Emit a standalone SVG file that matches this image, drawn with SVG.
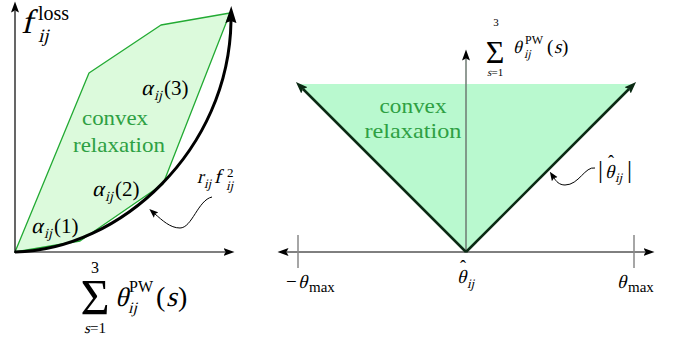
<svg xmlns="http://www.w3.org/2000/svg" width="678" height="341" viewBox="0 0 678 341">
<style>
text{font-family:"Liberation Serif",serif;font-style:normal;fill:#000}
.g{fill:#2ea043;text-anchor:middle}
.ax{stroke:#000;stroke-width:1.2;fill:none}
.thin{stroke:#000;stroke-width:1;fill:none}
</style>
<defs>
<marker id="ah" markerUnits="userSpaceOnUse" markerWidth="12" markerHeight="10" refX="1.5" refY="4" orient="auto-start-reverse" viewBox="0 0 12 8">
<path d="M0,0 L11,4 L0,8 L2,4 z" fill="#000"/>
</marker>
<marker id="big" markerUnits="userSpaceOnUse" markerWidth="18" markerHeight="12" refX="2" refY="5.5" orient="auto" viewBox="0 0 18 11">
<path d="M0,0 L17,5.5 L0,11 L2,5.5 z" fill="#000"/>
</marker>
<marker id="vh" markerUnits="userSpaceOnUse" markerWidth="13" markerHeight="10" refX="2" refY="4.5" orient="auto" viewBox="0 0 13 9">
<path d="M0,0 L12,4.5 L0,9 L2,4.5 z" fill="#0b2a14"/>
</marker>
<marker id="sq" markerUnits="userSpaceOnUse" markerWidth="10" markerHeight="8" refX="1.5" refY="3.5" orient="auto" viewBox="0 0 10 7">
<path d="M0,0 L9,3.5 L0,7 L1.5,3.5 z" fill="#000"/>
</marker>
</defs>

<!-- LEFT PLOT -->
<g id="left-relaxation">
<polygon points="15,252 80,241 163,184 230,13 161,25 89,73" fill="#dcfadc" stroke="#22aa33" stroke-width="1.3" stroke-linejoin="round"/>
<text class="g" x="115" y="125" font-size="21" textLength="66" lengthAdjust="spacingAndGlyphs">convex</text>
<text class="g" x="119" y="152" font-size="21" textLength="92" lengthAdjust="spacingAndGlyphs">relaxation</text>
</g>

<g id="left-axes">
<line class="ax" x1="15" y1="253" x2="15" y2="11" marker-end="url(#ah)"/>
<line class="ax" x1="14" y1="252" x2="225" y2="252" marker-end="url(#ah)"/>
</g>

<g id="left-curve">
<path d="M15,252 C120,250 229,150 231,21" fill="none" stroke="#000" stroke-width="3" marker-end="url(#big)"/>
</g>

<g id="label-floss">
<text font-size="34" transform="translate(21,33) skewX(-14)">f</text>
<text x="38" y="20" font-size="20">loss</text>
<text font-size="19" transform="translate(38,42) skewX(-14)">ij</text>
</g>

<g id="label-alpha3">
<text font-size="22" transform="translate(141,95) skewX(-14)">α</text>
<text font-size="14" transform="translate(154,100) skewX(-14)">ij</text>
<text x="164" y="95" font-size="21">(3)</text>
</g>
<g id="label-alpha2">
<text font-size="22" transform="translate(92,196) skewX(-14)">α</text>
<text font-size="14" transform="translate(105,201) skewX(-14)">ij</text>
<text x="115" y="196" font-size="21">(2)</text>
</g>
<g id="label-alpha1">
<text font-size="22" transform="translate(31,233) skewX(-14)">α</text>
<text font-size="14" transform="translate(44,238) skewX(-14)">ij</text>
<text x="54" y="233" font-size="21">(1)</text>
</g>

<g id="label-rf2">
<text font-size="19" transform="translate(197,183) skewX(-14)">r</text>
<text font-size="13" transform="translate(204,188) skewX(-14)">ij</text>
<text font-size="20" transform="translate(214,183) skewX(-14)">f</text>
<text x="227" y="177" font-size="13">2</text>
<text font-size="13" transform="translate(226,190) skewX(-14)">ij</text>
</g>

<g id="label-sum-bottom">
<text x="95" y="273" font-size="16" text-anchor="middle">3</text>
<text x="95" y="314" font-size="50" text-anchor="middle">Σ</text>
<text font-size="15" transform="translate(84,333) skewX(-14)">s</text>
<text x="90" y="333" font-size="15">=1</text>
<text font-size="27" transform="translate(115,306) skewX(-14)">θ</text>
<text x="129" y="292" font-size="16">PW</text>
<text font-size="16" transform="translate(128,313) skewX(-14)">ij</text>
<text x="156" y="306" font-size="28">(</text>
<text font-size="28" transform="translate(166,306) skewX(-14)">s</text>
<text x="178" y="306" font-size="28">)</text>
</g>

<!-- RIGHT PLOT -->
<g id="right-relaxation">
<polygon points="466,252 298,84 634,84" fill="#b9f9cf"/>
<text class="g" x="413" y="113" font-size="22" textLength="67" lengthAdjust="spacingAndGlyphs">convex</text>
<text class="g" x="413" y="138" font-size="22" textLength="97" lengthAdjust="spacingAndGlyphs">relaxation</text>
</g>

<g id="right-axes">
<line x1="466" y1="252" x2="466" y2="59" stroke="#6e7a72" stroke-width="1.5" marker-end="url(#ah)"/>
<line class="thin" x1="287" y1="252" x2="645" y2="252" marker-start="url(#ah)" marker-end="url(#ah)"/>
<line x1="298" y1="235" x2="298" y2="268" stroke="#888" stroke-width="1.5"/>
<line x1="634" y1="235" x2="634" y2="268" stroke="#888" stroke-width="1.5"/>
</g>

<g id="right-abs">
<line x1="466" y1="252" x2="303" y2="89" stroke="#0b2a14" stroke-width="2.5" marker-end="url(#vh)"/>
<line x1="466" y1="252" x2="629" y2="89" stroke="#0b2a14" stroke-width="2.5" marker-end="url(#vh)"/>
</g>

<g id="label-sum-top">
<text x="496" y="26" font-size="11" text-anchor="middle">3</text>
<text x="495" y="63" font-size="32" text-anchor="middle">Σ</text>
<text font-size="11" transform="translate(487,76) skewX(-14)">s</text>
<text x="491.5" y="76" font-size="11">=1</text>
<text font-size="18" transform="translate(513,53) skewX(-14)">θ</text>
<text x="525" y="44" font-size="12">PW</text>
<text font-size="12" transform="translate(524,58) skewX(-14)">ij</text>
<text x="547" y="53" font-size="19">(</text>
<text font-size="19" transform="translate(554,53) skewX(-14)">s</text>
<text x="562" y="53" font-size="19">)</text>
</g>

<g id="label-thetamax-neg">
<text x="286" y="288" font-size="19">−</text>
<text font-size="19" transform="translate(298,288) skewX(-14)">θ</text>
<text x="309" y="292" font-size="15">max</text>
</g>
<g id="label-thetahat">
<text font-size="19" transform="translate(457,283) skewX(-14)">θ</text>
<text x="460" y="273" font-size="18">ˆ</text>
<text font-size="13" transform="translate(467,288) skewX(-14)">ij</text>
</g>
<g id="label-thetamax">
<text font-size="19" transform="translate(617,288) skewX(-14)">θ</text>
<text x="628" y="292" font-size="15">max</text>
</g>
<g id="label-abs">
<text x="598" y="178" font-size="25">|</text>
<text font-size="19" transform="translate(605,178) skewX(-14)">θ</text>
<text x="608" y="168" font-size="18">ˆ</text>
<text font-size="13" transform="translate(615,182) skewX(-14)">ij</text>
<text x="627" y="178" font-size="25">|</text>
</g>

<g id="connectors">
<path class="thin" d="M212,197 C198,200 192,228 180,228 C170,228 162,220 155,214" marker-end="url(#sq)"/>
<path class="thin" d="M595,168 C585,166 579,185 565,185 C559,185 556,181 554,178" marker-end="url(#sq)"/>
</g>
</svg>
